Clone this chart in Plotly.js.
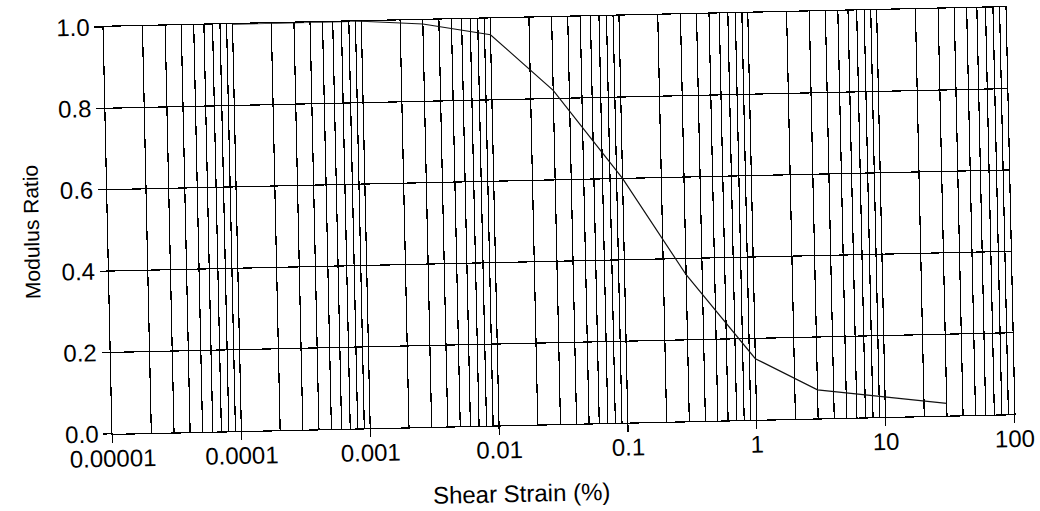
<!DOCTYPE html>
<html>
<head>
<meta charset="utf-8">
<script src="https://cdn.plot.ly/plotly-3.0.1.min.js"></script>
<style>
  html, body { margin: 0; padding: 0; background: #fff; overflow: hidden; }
  #chart { width: 1040px; height: 511px; transform: rotate(-1.25deg); transform-origin: 559px 220.5px; }
</style>
</head>
<body>
<div id="chart"></div>
<script>
// Data
const shearStrain = [0.0001, 0.0003, 0.001, 0.003, 0.01, 0.03, 0.1, 0.3, 1, 3, 10, 30];
const modulusRatio = [1.0, 1.0, 1.0, 0.99, 0.96, 0.82, 0.60, 0.36, 0.15, 0.07, 0.05, 0.03];

const xTickVals = [0.00001, 0.0001, 0.001, 0.01, 0.1, 1, 10, 100];
const xTickText = ["0.00001", "0.0001", "0.001", "0.01", "0.1", "1", "10", "100"];
const yTickVals = [0.0, 0.2, 0.4, 0.6, 0.8, 1.0];
const yTickText = ["0.0", "0.2", "0.4", "0.6", "0.8", "1.0"];

const xTitle = 'Shear Strain (%)';
const yTitle = 'Modulus Ratio';

const trace = {
  x: shearStrain,
  y: modulusRatio,
  type: 'scatter',
  mode: 'lines',
  line: { color: '#111', width: 1.2 },
  hoverinfo: 'skip',
  showlegend: false
};

const layout = {
  width: 1040,
  height: 511,
  margin: { l: 108, r: 30, t: 17, b: 87 },
  paper_bgcolor: '#fff',
  plot_bgcolor: '#fff',
  font: { family: 'Liberation Sans, Arial, sans-serif', color: '#000', size: 24 },
  xaxis: {
    type: 'log',
    range: [-5, 2],
    tickvals: xTickVals,
    ticktext: xTickText,
    ticks: 'outside',
    ticklen: 8,
    tickwidth: 1.2,
    tickcolor: '#000',
    ticklabelstandoff: -5,
    showgrid: true,
    gridcolor: '#000',
    gridwidth: 1.2,
    minor: { dtick: 'D1', showgrid: true, gridcolor: '#000', gridwidth: 1.2, ticks: '' },
    zeroline: false,
    showline: true,
    linecolor: '#000',
    linewidth: 1.2,
    mirror: true,
    tickfont: { size: 24 }
  },
  yaxis: {
    range: [0, 1],
    tickvals: yTickVals,
    ticktext: yTickText,
    ticks: 'outside',
    ticklen: 8,
    tickwidth: 1.2,
    tickcolor: '#000',
    showgrid: true,
    gridcolor: '#000',
    gridwidth: 1.2,
    zeroline: false,
    showline: true,
    linecolor: '#000',
    linewidth: 1.2,
    mirror: true,
    tickfont: { size: 24 },
    title: { text: yTitle, font: { size: 21 }, standoff: 15 }
  },
  annotations: [{
    text: xTitle,
    xref: 'paper', yref: 'paper',
    x: 0.452, y: -0.168,
    xanchor: 'center', yanchor: 'middle',
    showarrow: false,
    font: { size: 24, color: '#000' }
  }]
};

Plotly.newPlot('chart', [trace], layout, { staticPlot: true, displayModeBar: false });
</script>
</body>
</html>
